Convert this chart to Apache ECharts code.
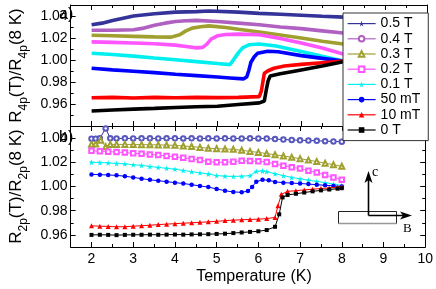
<!DOCTYPE html>
<html><head><meta charset="utf-8">
<script src="https://cdn.jsdelivr.net/npm/echarts@6/dist/echarts.min.js"></script>
<style>html,body{margin:0;padding:0;background:#fff}#c{width:436px;height:289px}</style>
</head><body><div id="c"></div>
<script>
// ---------- data ----------
const seriesNames = ['0.5 T','0.4 T','0.3 T','0.2 T','0.1 T','50 mT','10 mT','0 T'];
const xTicks = [2,3,4,5,6,7,8,9,10];
const yTickDecimals = 2;

// panel a) R4p(T)/R4p(8 K)  [T (K), ratio]
const a05 = [[2,1.032],[2.25,1.0335],[2.5,1.036],[2.75,1.038],[3,1.040],[3.5,1.042],[4,1.0435],[4.5,1.044],[4.8,1.0445],[5.5,1.0435],[6,1.0424],[6.5,1.0416],[7,1.0407],[7.5,1.0398],[8,1.039]];
const a04 = [[2,1.027],[2.5,1.027],[3,1.0275],[3.25,1.029],[3.5,1.0315],[3.75,1.0335],[4,1.035],[4.25,1.0357],[4.5,1.036],[5,1.035],[5.5,1.0335],[6,1.032],[6.5,1.030],[7,1.0285],[7.5,1.0265],[8,1.0245]];
const a03 = [[2,1.0225],[2.5,1.022],[3,1.0215],[3.5,1.021],[3.9,1.0208],[4.1,1.023],[4.25,1.0265],[4.4,1.029],[4.6,1.0302],[4.8,1.031],[5.2,1.0296],[5.5,1.028],[6,1.0255],[6.5,1.0228],[7,1.020],[7.5,1.017],[8,1.0145]];
const a02 = [[2,1.0165],[2.5,1.016],[3,1.0155],[3.5,1.0148],[4,1.0135],[4.3,1.012],[4.5,1.011],[4.65,1.0115],[4.75,1.0145],[4.85,1.019],[5.0,1.022],[5.2,1.0232],[5.5,1.0235],[6,1.023],[6.5,1.0195],[7,1.0155],[7.5,1.011],[8,1.0055]];
const a01 = [[2,1.0062],[2.5,1.005],[3,1.0035],[3.5,1.0018],[4,1.0002],[4.5,0.9985],[5,0.9968],[5.3,0.9958],[5.4,1.001],[5.5,1.0065],[5.6,1.011],[5.75,1.0138],[6,1.0145],[6.4,1.0127],[7,1.0077],[7.5,1.0033],[8,0.999]];
const a50 = [[2,0.9925],[2.5,0.991],[3,0.9898],[3.5,0.9885],[4,0.9871],[4.5,0.9858],[5,0.9845],[5.3,0.9837],[5.62,0.9828],[5.7,0.9845],[5.75,0.9905],[5.8,0.998],[5.88,1.003],[5.96,1.0062],[6.2,1.008],[6.45,1.0075],[7,1.004],[7.5,1.0015],[8,0.999]];
const a10 = [[2,0.9657],[2.5,0.966],[3,0.9655],[3.5,0.966],[4,0.9657],[4.5,0.966],[5,0.9658],[5.5,0.966],[6,0.9667],[6.05,0.972],[6.12,0.988],[6.2,0.990],[6.35,0.9925],[6.6,0.9945],[7,0.996],[7.5,0.9975],[8,0.999]];
const a00 = [[2,0.9536],[2.5,0.9545],[3,0.9553],[3.5,0.956],[4,0.9568],[4.5,0.9575],[5,0.958],[5.5,0.9595],[6,0.961],[6.12,0.9627],[6.17,0.9736],[6.21,0.981],[6.26,0.9855],[6.5,0.9875],[7,0.991],[7.5,0.9945],[8,0.9985]];

// panel b) R2p(T)/R2p(8 K)
const b05 = [[2.0,1.0395],[2.1,1.0395],[2.2,1.0398],[2.34,1.048],[2.45,1.0398],[2.6,1.0397],[2.8,1.0398],[3.0,1.0397],[3.2,1.0398],[3.4,1.0398],[3.6,1.0397],[3.8,1.0398],[4.0,1.0398],[4.2,1.0397],[4.4,1.0398],[4.6,1.0397],[4.8,1.0398],[5.0,1.0397],[5.2,1.0398],[5.4,1.0397],[5.6,1.0397],[5.8,1.0398],[6.0,1.0397],[6.2,1.0396],[6.4,1.0392],[6.6,1.0388],[6.8,1.0385],[7.0,1.0382],[7.2,1.038],[7.4,1.0378],[7.6,1.0375],[7.8,1.0372],[8.0,1.037]];
const b03 = [[2.0,1.035],[2.1,1.0352],[2.22,1.0383],[2.34,1.0328],[2.45,1.0348],[2.6,1.0348],[2.8,1.0348],[3.0,1.0347],[3.2,1.0346],[3.4,1.0345],[3.6,1.0344],[3.8,1.0342],[4.0,1.034],[4.2,1.0335],[4.4,1.033],[4.6,1.0323],[4.8,1.0316],[5.0,1.0313],[5.2,1.031],[5.4,1.0307],[5.6,1.030],[5.8,1.029],[6.0,1.0282],[6.2,1.0272],[6.4,1.0262],[6.6,1.0252],[6.8,1.0241],[7.0,1.023],[7.2,1.0218],[7.4,1.0206],[7.6,1.0193],[7.8,1.018],[8.0,1.0167]];
const b02 = [[2.0,1.0295],[2.2,1.0292],[2.4,1.0288],[2.6,1.0285],[2.8,1.028],[3.0,1.0275],[3.2,1.0271],[3.4,1.0265],[3.6,1.026],[3.8,1.0253],[4.0,1.0245],[4.2,1.0237],[4.4,1.0228],[4.6,1.022],[4.8,1.0205],[5.0,1.020],[5.2,1.020],[5.4,1.0205],[5.6,1.0212],[5.8,1.021],[6.0,1.0208],[6.2,1.0203],[6.4,1.0185],[6.6,1.0172],[6.8,1.016],[7.0,1.0148],[7.2,1.013],[7.4,1.0115],[7.6,1.0095],[7.8,1.0075],[8.0,1.0056]];
const b01 = [[2.0,1.020],[2.2,1.0198],[2.4,1.0195],[2.6,1.019],[2.8,1.0187],[3.0,1.018],[3.2,1.0175],[3.4,1.0165],[3.6,1.0158],[3.8,1.015],[4.0,1.0143],[4.2,1.0133],[4.4,1.0123],[4.6,1.0113],[4.8,1.0103],[5.0,1.009],[5.2,1.0085],[5.4,1.0083],[5.6,1.0085],[5.8,1.009],[5.95,1.0125],[6.1,1.0128],[6.2,1.0122],[6.4,1.0105],[6.6,1.009],[6.8,1.0075],[7.0,1.0063],[7.2,1.0052],[7.4,1.0042],[7.6,1.0032],[7.8,1.002],[8.0,1.0008]];
const b50 = [[2.0,1.010],[2.2,1.0098],[2.4,1.0095],[2.6,1.0092],[2.8,1.0085],[3.0,1.0075],[3.2,1.0065],[3.4,1.0055],[3.6,1.0048],[3.8,1.004],[4.0,1.0032],[4.2,1.0025],[4.4,1.0015],[4.6,1.0005],[4.8,0.9995],[5.0,0.998],[5.2,0.9965],[5.4,0.9955],[5.6,0.9952],[5.75,0.9962],[5.85,0.9995],[5.95,1.004],[6.1,1.0055],[6.25,1.0052],[6.4,1.0038],[6.6,1.0032],[6.8,1.0028],[7.0,1.0025],[7.2,1.002],[7.4,1.0015],[7.6,1.001],[7.8,1.0005],[8.0,1.000]];
const b10 = [[2.0,0.9675],[2.2,0.9672],[2.4,0.967],[2.6,0.9667],[2.8,0.9668],[3.0,0.9672],[3.2,0.9676],[3.4,0.968],[3.6,0.9685],[3.8,0.9689],[4.0,0.9693],[4.2,0.9697],[4.4,0.970],[4.6,0.9704],[4.8,0.9708],[5.0,0.9712],[5.2,0.9718],[5.4,0.9722],[5.6,0.9725],[5.8,0.9728],[6.0,0.973],[6.2,0.9735],[6.4,0.9744],[6.47,0.984],[6.55,0.9935],[6.7,0.996],[6.9,0.9965],[7.1,0.9972],[7.3,0.9978],[7.5,0.9983],[7.7,0.9988],[7.9,0.9995],[8.0,1.000]];
const b00 = [[2.0,0.960],[2.2,0.9601],[2.4,0.960],[2.6,0.9598],[2.8,0.960],[3.0,0.9601],[3.2,0.9601],[3.4,0.9602],[3.6,0.9601],[3.8,0.9602],[4.0,0.9603],[4.2,0.9602],[4.4,0.9604],[4.6,0.9605],[4.8,0.9606],[5.0,0.9608],[5.2,0.961],[5.4,0.9615],[5.6,0.962],[5.8,0.9625],[6.0,0.963],[6.2,0.964],[6.4,0.9667],[6.5,0.977],[6.58,0.991],[6.7,0.993],[6.9,0.994],[7.1,0.995],[7.3,0.996],[7.5,0.9968],[7.7,0.9975],[7.9,0.9982],[8.0,0.9986]];

// ---------- styling ----------
const FONT = "'Liberation Sans', Arial, sans-serif";
const SERIF = "'Liberation Serif', 'Times New Roman', serif";
const STAR = 'path://M50,0 L61,35 L98,35 L68,57 L79,91 L50,70 L21,91 L32,57 L2,35 L39,35 Z';
const colors = ['#333399','#b060c0','#a0a030','#ff55ff','#00f0f0','#0000ff','#ff0000','#000000'];
const symbolsA = [STAR,'emptyCircle','emptyTriangle','emptyRect',STAR,'circle','triangle','rect'];

const chart = echarts.init(document.getElementById('c'), null, {renderer:'canvas'});

const L = 55, W = 372, TOP1 = 5, H1 = 121, TOP2 = 126, H2 = 121;

function xAx(grid, pos, labels) {
  return {
    type:'value', gridIndex:grid, position:pos, min:1.5, max:10, minInterval:1, maxInterval:1,
    axisLine:{show:true, lineStyle:{color:'#000', width:1}},
    axisTick:{show:true, inside:true, length:5, lineStyle:{color:'#000'}},
    minorTick:{show:true, splitNumber:2, length:3, lineStyle:{color:'#000'}},
    splitLine:{show:false}, minorSplitLine:{show:false},
    axisLabel:{show:labels, margin:5, color:'#000', fontFamily:FONT, fontSize:14,
      formatter:v => (xTicks.indexOf(v) >= 0 ? String(v) : '')},
    name: labels ? 'Temperature (K)' : '', nameLocation:'middle', nameGap:22,
    nameTextStyle:{color:'#000', fontFamily:FONT, fontSize:16, padding:[0,0,0,12]}
  };
}
function yAx(grid, pos, lo, hi, labels, name) {
  const o = {
    type:'value', gridIndex:grid, position:pos, min:lo, max:hi, minInterval:0.02, maxInterval:0.02,
    axisLine:{show:true, lineStyle:{color:'#000', width:1}},
    axisTick:{show:true, inside:true, length:5, lineStyle:{color:'#000'}},
    minorTick:{show:true, splitNumber:2, length:3, lineStyle:{color:'#000'}},
    splitLine:{show:false}, minorSplitLine:{show:false},
    axisLabel:{show:labels, margin:3, color:'#000', fontFamily:FONT, fontSize:14,
      formatter:v => { const r = Math.round(v*100)/100; return (r >= 0.955 && r <= 1.045 && Math.abs(v-r) < 1e-6 && Math.round(r*100) % 2 === 0) ? r.toFixed(yTickDecimals) : ''; }}
  };
  if (name) {
    o.name = name; o.nameLocation = 'middle'; o.nameGap = 34; o.nameRotate = 90;
    o.nameTextStyle = {color:'#000', fontFamily:FONT, rich:{
      r:{fontSize:17, fontFamily:FONT, color:'#000', lineHeight:20},
      s:{fontSize:12, fontFamily:FONT, color:'#000', lineHeight:12, verticalAlign:'bottom', padding:[0,0,-3,0]}
    }};
  }
  return o;
}

const series = [];
const aData = [a05,a04,a03,a02,a01,a50,a10,a00];
aData.forEach((d,i) => {
  series.push({
    name:seriesNames[i], type:'line', xAxisIndex:0, yAxisIndex:0, data:d,
    symbol:symbolsA[i], symbolSize:6, showSymbol:false, smooth:false,
    lineStyle:{color:colors[i], width:3.6}, itemStyle:{color:colors[i], borderWidth:1}, z:2+i
  });
});
const bData = [[b05,0,'emptyCircle',4.5],[b03,2,'emptyTriangle',5],[b02,3,'emptyRect',4.5],[b01,4,STAR,6],[b50,5,'circle',4.5],[b10,6,'triangle',5],[b00,7,'rect',4]];
bData.forEach(([d,ci,sym,sz]) => {
  series.push({
    name:seriesNames[ci], type:'line', xAxisIndex:2, yAxisIndex:2, data:d,
    symbol:sym, symbolSize:sz, showSymbol:true,
    lineStyle:{color:colors[ci], width:1}, itemStyle:{color: ci===0 ? '#5858c0' : colors[ci], borderWidth:1}, z:2+ci
  });
});

const option = {
  backgroundColor:'#fff',
  animation:false,
  textStyle:{fontFamily:FONT},
  grid:[
    {left:L, top:TOP1, width:W, height:H1, containLabel:false},
    {left:L, top:TOP2, width:W, height:H2, containLabel:false}
  ],
  xAxis:[xAx(0,'bottom',false), xAx(0,'top',false), xAx(1,'bottom',true), xAx(1,'top',false)],
  yAxis:[
    yAx(0,'left',0.94,1.05,true,'{r|R}{s|4p}{r|(T)/R}{s|4p}{r|(8 K)}'),
    yAx(0,'right',0.94,1.05,false,null),
    yAx(1,'left',0.95,1.05,true,'{r|R}{s|2p}{r|(T)/R}{s|2p}{r|(8 K)}'),
    yAx(1,'right',0.95,1.05,false,null)
  ],
  legend:{
    data:seriesNames, orient:'vertical', left:343, top:13,
    itemWidth:28, itemHeight:7, itemGap:0,
    padding:[3,8,3,4], backgroundColor:'#fff', borderColor:'#333', borderWidth:1, borderRadius:0,
    textStyle:{color:'#000', fontFamily:FONT, fontSize:14, lineHeight:15.2},
    lineStyle:{width:1.2}, z:20
  },
  graphic:[
    {type:'text', left:59, top:7, z:30, style:{text:'a)', font:'16px ' + FONT, fill:'#000'}},
    {type:'text', left:59, top:130, z:30, style:{text:'b)', font:'16px ' + FONT, fill:'#000'}},
    {type:'rect', z:30, shape:{x:338.5, y:211.5, width:58, height:12}, style:{fill:'none', stroke:'#222', lineWidth:1}},
    {type:'line', z:31, shape:{x1:338.5, y1:223.5, x2:396.5, y2:223.5}, style:{stroke:'#999', lineWidth:1.5}},
    {type:'line', z:31, shape:{x1:368.5, y1:215.5, x2:368.5, y2:178}, style:{stroke:'#000', lineWidth:1.6}},
    {type:'line', z:31, shape:{x1:368.5, y1:215.5, x2:404, y2:215.5}, style:{stroke:'#000', lineWidth:1.6}},
    {type:'polygon', z:32, shape:{points:[[368.5,171],[364.5,183],[368.5,180],[372.5,183]]}, style:{fill:'#000'}},
    {type:'polygon', z:32, shape:{points:[[412,215.5],[400,211.5],[403,215.5],[400,219.5]]}, style:{fill:'#000'}},
    {type:'text', z:32, left:372, top:165, style:{text:'c', font:'14px ' + SERIF, fill:'#000'}},
    {type:'text', z:32, left:403, top:222, style:{text:'B', font:'13px ' + SERIF, fill:'#000'}}
  ],
  series:series
};
chart.setOption(option);
</script>
</body></html>
